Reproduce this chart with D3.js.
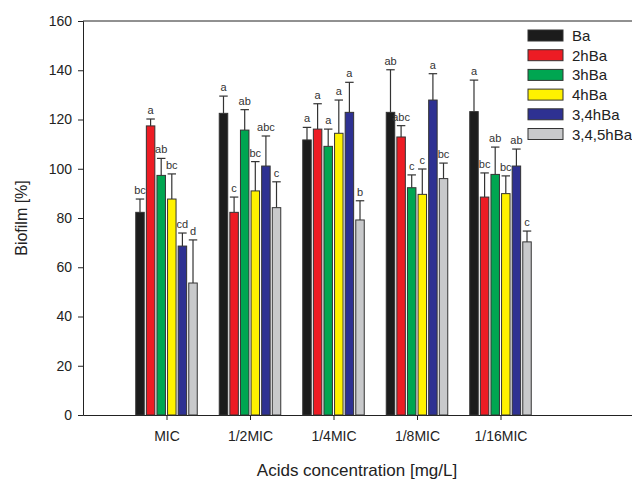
<!DOCTYPE html>
<html>
<head>
<meta charset="utf-8">
<script src="https://cdn.jsdelivr.net/npm/d3@7"></script>
<style>
  body { margin: 0; background: #fff; }
  svg { display: block; font-family: "Liberation Sans", Arial, sans-serif; }
</style>
</head>
<body>
<script>
var categories = ["MIC", "1/2MIC", "1/4MIC", "1/8MIC", "1/16MIC"];
var series = ["Ba", "2hBa", "3hBa", "4hBa", "3,4hBa", "3,4,5hBa"];
var colorsList = ["#1c1c1c", "#ed1c24", "#00a651", "#fff200", "#2e3192", "#c8c9cb"];

// mean biofilm per series, one entry per category
var valBa     = [82.3, 122.5, 111.7, 122.9, 123.2];
var val2hBa   = [117.4, 82.3, 116.1, 112.9, 88.5];
var val3hBa   = [97.3, 115.7, 109.1, 92.3, 97.7];
var val4hBa   = [87.7, 91.0, 114.4, 89.6, 89.9];
var val34hBa  = [68.6, 101.1, 122.9, 127.9, 101.1];
var val345hBa = [53.6, 84.2, 79.2, 96.0, 70.3];

// error bar (upper) sizes
var errBa     = [5.4, 7.0, 5.1, 17.3, 12.8];
var err2hBa   = [2.8, 6.2, 10.3, 4.6, 9.8];
var err3hBa   = [6.9, 8.3, 7.0, 5.2, 11.1];
var err4hBa   = [10.2, 11.9, 13.5, 10.3, 7.2];
var err34hBa  = [5.3, 12.2, 12.2, 10.7, 6.9];
var err345hBa = [17.5, 10.5, 7.8, 6.3, 4.4];

// significance letters
var letBa     = ["bc", "a", "a", "ab", "a"];
var let2hBa   = ["a", "c", "a", "abc", "bc"];
var let3hBa   = ["ab", "ab", "a", "c", "ab"];
var let4hBa   = ["bc", "bc", "a", "c", "bc"];
var let34hBa  = ["cd", "abc", "a", "a", "ab"];
var let345hBa = ["d", "c", "b", "bc", "c"];

var yTicks = [0, 20, 40, 60, 80, 100, 120, 140, 160];

var values = [valBa, val2hBa, val3hBa, val4hBa, val34hBa, val345hBa];
var errors = [errBa, err2hBa, err3hBa, err4hBa, err34hBa, err345hBa];
var letters = [letBa, let2hBa, let3hBa, let4hBa, let34hBa, let345hBa];

var rows = [];
categories.forEach(function(c, ci) {
  series.forEach(function(s, si) {
    rows.push({cat: ci, s: s, si: si, v: values[si][ci], e: errors[si][ci], l: letters[si][ci]});
  });
});

var width = 632, height = 480;

var x = d3.scaleLinear().domain([0, 7]).range([83, 83 + 7 * 83.5]);
var y = d3.scaleLinear().domain([0, 160]).range([415, 21]);
var x1 = d3.scaleBand().domain(series).range([-30.75, 30.75]).paddingInner(0.2);
var color = d3.scaleOrdinal().domain(series).range(colorsList);

var svg = d3.select('body').append('svg')
  .attr('width', width)
  .attr('height', height);

// frame: top line
svg.append('line')
  .attr('x1', x(0)).attr('x2', width)
  .attr('y1', y(160)).attr('y2', y(160))
  .attr('stroke', '#222').attr('stroke-width', 1);

var yAxis = d3.axisLeft(y).tickValues(yTicks).tickSize(5).tickPadding(6);
var gy = svg.append('g')
  .attr('transform', 'translate(' + x(0) + ',0)')
  .call(yAxis);
gy.selectAll('text').style('font-size', '14px').attr('fill', '#222');
gy.selectAll('line,path').attr('stroke', '#222');

var xAxis = d3.axisBottom(x).tickValues([1, 2, 3, 4, 5]).tickSize(5).tickPadding(11)
  .tickSizeOuter(0)
  .tickFormat(function(d) { return categories[d - 1]; });
var gx = svg.append('g')
  .attr('transform', 'translate(0,' + y(0) + ')')
  .call(xAxis);
gx.selectAll('text').style('font-size', '14px').attr('fill', '#222');
gx.selectAll('line,path').attr('stroke', '#222');

// bars
var bar = svg.selectAll('.bar')
  .data(rows)
  .enter()
  .append('g')
  .attr('class', 'bar')
  .attr('transform', function(d) { return 'translate(' + (x(d.cat + 1) + x1(d.s)) + ',0)'; });

bar.append('line')
  .attr('x1', x1.bandwidth() / 2).attr('x2', x1.bandwidth() / 2)
  .attr('y1', function(d) { return y(d.v); })
  .attr('y2', function(d) { return y(d.v + d.e); })
  .attr('stroke', '#333').attr('stroke-width', 1.2);

bar.append('line')
  .attr('x1', 0).attr('x2', x1.bandwidth())
  .attr('y1', function(d) { return y(d.v + d.e); })
  .attr('y2', function(d) { return y(d.v + d.e); })
  .attr('stroke', '#333').attr('stroke-width', 1.2);

bar.append('rect')
  .attr('x', 0)
  .attr('y', function(d) { return y(d.v); })
  .attr('width', x1.bandwidth())
  .attr('height', function(d) { return y(0) - y(d.v); })
  .attr('fill', function(d) { return color(d.s); })
  .attr('stroke', '#333').attr('stroke-width', 1);

bar.append('text')
  .attr('x', x1.bandwidth() / 2)
  .attr('y', function(d) { return y(d.v + d.e) - 5; })
  .attr('text-anchor', 'middle')
  .style('font-size', '11px')
  .attr('fill', '#333')
  .text(function(d) { return d.l; });

// axis titles
svg.append('text')
  .attr('transform', 'translate(27,' + ((y(0) + y(160)) / 2) + ') rotate(-90)')
  .attr('text-anchor', 'middle')
  .style('font-size', '16px')
  .attr('fill', '#222')
  .text('Biofilm [%]');

svg.append('text')
  .attr('x', 357)
  .attr('y', 476)
  .attr('text-anchor', 'middle')
  .style('font-size', '17px')
  .attr('fill', '#222')
  .text('Acids concentration [mg/L]');

// legend
var legend = svg.selectAll('.legend')
  .data(series)
  .enter()
  .append('g')
  .attr('class', 'legend')
  .attr('transform', function(d, i) { return 'translate(528,' + (30 + i * 19.7) + ')'; });

legend.append('rect')
  .attr('width', 35)
  .attr('height', 11)
  .attr('fill', function(d) { return color(d); })
  .attr('stroke', '#333');

legend.append('text')
  .attr('x', 44)
  .attr('y', 11)
  .style('font-size', '15px')
  .attr('fill', '#222')
  .text(function(d) { return d; });
</script>
</body>
</html>
